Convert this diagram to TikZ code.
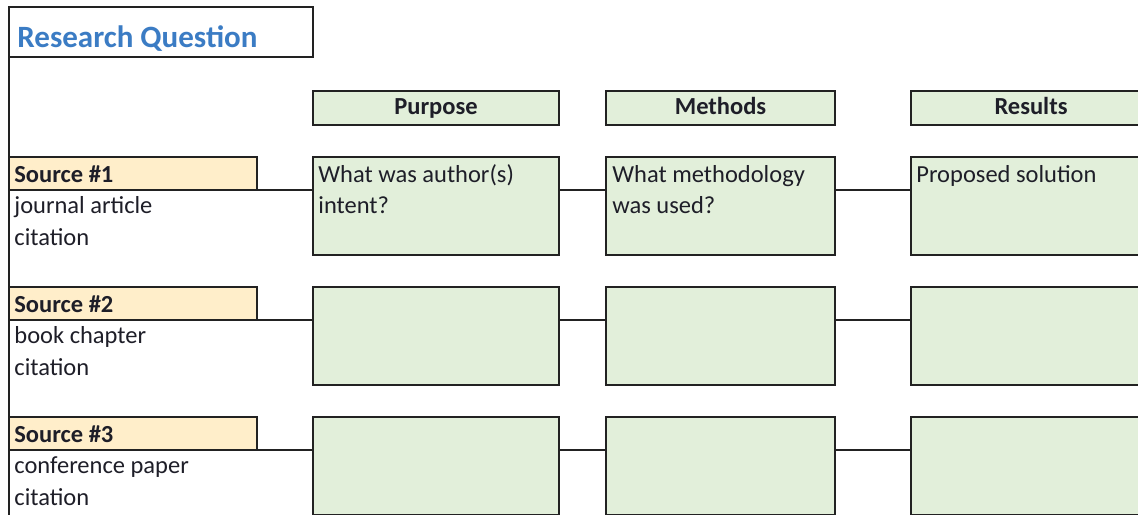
\documentclass[tikz,border=0pt]{standalone}
\usepackage{fontspec}
\setmainfont{Carlito}
\usetikzlibrary{calc}
\definecolor{rqblue}{HTML}{3B7CC4}
\definecolor{boxgreen}{HTML}{E2EFDA}
\definecolor{srcfill}{HTML}{FFEECA}
\definecolor{txtcol}{HTML}{1E1E28}
\definecolor{linecol}{HTML}{222222}
\begin{document}
\begin{tikzpicture}[x=0.5pt,y=-0.5pt,
  frame/.style={draw=linecol, line width=1pt, inner sep=0pt, outer sep=0pt, anchor=north west},
  gbox/.style={frame, fill=boxgreen},
  sbox/.style={frame, fill=srcfill, minimum width=124pt, minimum height=16.5pt},
  hbox/.style={gbox, minimum height=17pt, font=\bfseries\fontsize{12.25}{15}\selectfont, text=txtcol, text height=8.5pt, text depth=2.5pt},
  bbox/.style={gbox, minimum height=49pt},
  link/.style={draw=linecol, line width=0.8pt},
  txt/.style={font=\fontsize{12.25}{15}\selectfont, text=txtcol, inner sep=0pt, anchor=base west},
  stxt/.style={txt, font=\bfseries\fontsize{12.25}{15}\selectfont}
]
\useasboundingbox (0,0) rectangle (1138,514);
\clip (0,0) rectangle (1138,514);
\fill[white] (0,0) rectangle (1138,514);

% research question
\node[frame, fill=white, minimum width=152pt, minimum height=25pt] (rq) at (9,7) {};
\node[font=\bfseries\fontsize{15.5}{18}\selectfont, text=rqblue, anchor=base west, inner sep=0pt] (rqt) at (17,47) {Research Question};

% headers
\node[hbox, minimum width=123pt] (ph) at (313,91) {Purpose};
\node[hbox, minimum width=114.5pt] (mh) at (606,91) {Methods};
\node[hbox, minimum width=120pt] (rh) at (911,91) {Results};

% sources
\node[sbox] (s1) at (9,157) {};
\node[sbox] (s2) at (9,287) {};
\node[sbox] (s3) at (9,417) {};

\node[stxt] (s1a) at (14,182) {Source \#1};
\node[txt] (s1b) at (14,213) {journal article};
\node[txt] (s1c) at (14,245) {citation};
\node[stxt] (s2a) at (14,312) {Source \#2};
\node[txt] (s2b) at (14,343) {book chapter};
\node[txt] (s2c) at (14,375) {citation};
\node[stxt] (s3a) at (14,442) {Source \#3};
\node[txt] (s3b) at (14,473) {conference paper};
\node[txt] (s3c) at (14,505) {citation};

% body boxes
\node[bbox, minimum width=123pt] (p1) at (313,157) {};
\node[bbox, minimum width=114.5pt] (m1) at (606,157) {};
\node[bbox, minimum width=120pt] (r1) at (911,157) {};
\node[bbox, minimum width=123pt] (p2) at (313,287) {};
\node[bbox, minimum width=114.5pt] (m2) at (606,287) {};
\node[bbox, minimum width=120pt] (r2) at (911,287) {};
\node[bbox, minimum width=123pt] (p3) at (313,417) {};
\node[bbox, minimum width=114.5pt] (m3) at (606,417) {};
\node[bbox, minimum width=120pt] (r3) at (911,417) {};

\node[txt] (p1a) at (318,182) {What was author(s)};
\node[txt] (p1b) at (318,213) {intent?};
\node[txt] (m1a) at (612,182) {What methodology};
\node[txt] (m1b) at (612,213) {was used?};
\node[txt] (r1a) at (916,182) {Proposed solution};

% connectors
\foreach \i in {1,2,3}{
  \draw[link] (s\i.south east) -- (s\i.south east -| p\i.west);
  \draw[link] (s\i.south east -| p\i.east) -- (s\i.south east -| m\i.west);
  \draw[link] (s\i.south east -| m\i.east) -- (s\i.south east -| r\i.west);
}

% left spine
\coordinate (bottom) at (9,520);
\draw[draw=linecol, line width=1pt] (rq.north west) -- (bottom);
\end{tikzpicture}
\end{document}
